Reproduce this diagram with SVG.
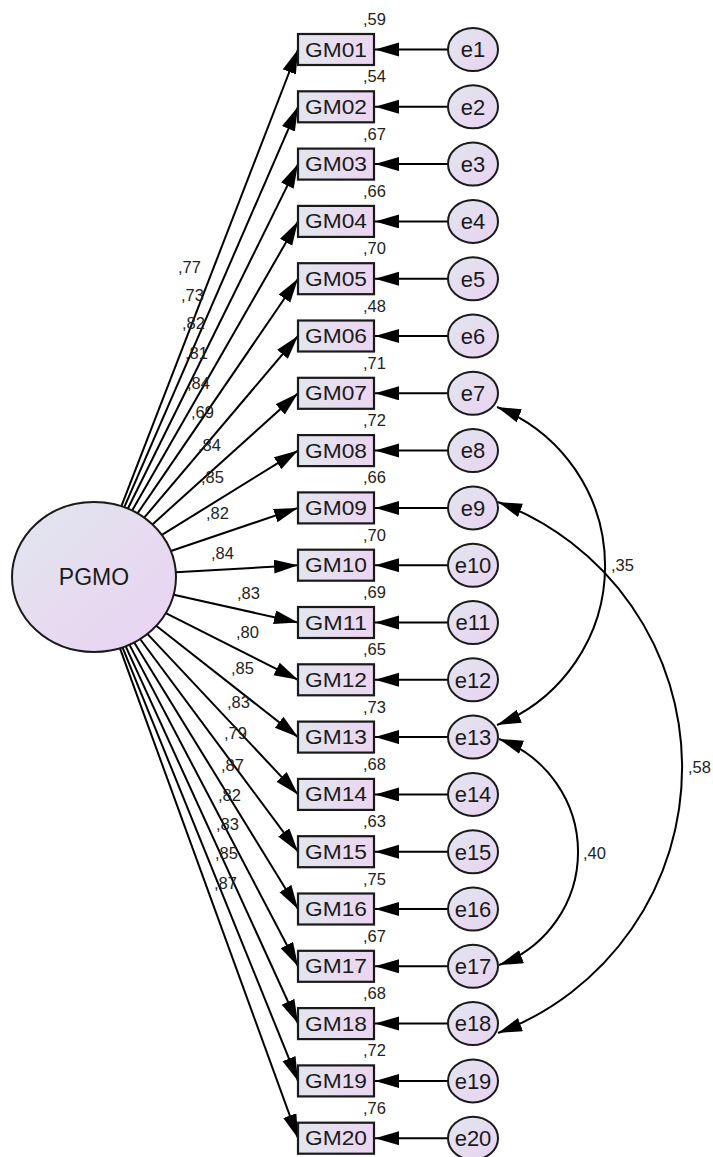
<svg xmlns="http://www.w3.org/2000/svg" width="713" height="1157" viewBox="0 0 713 1157">
<defs>
<style>
.box{fill:url(#gBox);stroke:#1a1a1a;stroke-width:2.2}
.ell{fill:url(#gEll);stroke:#1a1a1a;stroke-width:2}
.ln{fill:none;stroke:#000;stroke-width:2;marker-end:url(#ah)}
.cv{fill:none;stroke:#000;stroke-width:2;marker-start:url(#ah);marker-end:url(#ah)}
.lbl{font-family:"Liberation Sans",Arial,sans-serif;fill:#1a1a1a;text-anchor:middle}
.gm{font-size:20px}
.e{font-size:22px}
.num{font-family:"Liberation Sans",Arial,sans-serif;font-size:16.5px;fill:#222}
</style>
<linearGradient id="gBox" x1="0" y1="0" x2="1" y2="0">
<stop offset="0" stop-color="#e2e6ee"/>
<stop offset="1" stop-color="#ecd5f1"/>
</linearGradient>
<linearGradient id="gEll" x1="0" y1="0" x2="1" y2="1">
<stop offset="0" stop-color="#e1e6ee"/>
<stop offset="1" stop-color="#ead2f2"/>
</linearGradient>
<marker id="ah" markerUnits="userSpaceOnUse" markerWidth="26" markerHeight="16" refX="24" refY="7" orient="auto-start-reverse">
<path d="M0,0 L24,7 L0,14 z" fill="#000"/>
</marker>
</defs>
<rect width="713" height="1157" fill="#fff"/>

<g id="connectors">
<line class="ln" x1="121.3" y1="506.3" x2="298" y2="49.5"/>
<line class="ln" x1="124.2" y1="507.3" x2="298" y2="106.8"/>
<line class="ln" x1="127.8" y1="508.7" x2="298" y2="164.1"/>
<line class="ln" x1="132.1" y1="510.6" x2="298" y2="221.4"/>
<line class="ln" x1="137.5" y1="513.4" x2="298" y2="278.7"/>
<line class="ln" x1="144.2" y1="517.7" x2="298" y2="336"/>
<line class="ln" x1="152.4" y1="524.4" x2="298" y2="393.3"/>
<line class="ln" x1="161.9" y1="534.9" x2="298" y2="450.6"/>
<line class="ln" x1="170.9" y1="551" x2="298" y2="507.9"/>
<line class="ln" x1="175.8" y1="572.3" x2="298" y2="565.2"/>
<line class="ln" x1="173.7" y1="594.8" x2="298" y2="622.5"/>
<line class="ln" x1="165.8" y1="613.2" x2="298" y2="679.8"/>
<line class="ln" x1="156.2" y1="625.8" x2="298" y2="737.1"/>
<line class="ln" x1="147.4" y1="633.9" x2="298" y2="794.4"/>
<line class="ln" x1="140.1" y1="639" x2="298" y2="851.7"/>
<line class="ln" x1="134.2" y1="642.4" x2="298" y2="909"/>
<line class="ln" x1="129.4" y1="644.6" x2="298" y2="966.3"/>
<line class="ln" x1="125.6" y1="646.2" x2="298" y2="1023.6"/>
<line class="ln" x1="122.5" y1="647.3" x2="298" y2="1080.9"/>
<line class="ln" x1="119.9" y1="648.2" x2="298" y2="1138.2"/>

<line class="ln" x1="448" y1="49.5" x2="375" y2="49.5"/>
<line class="ln" x1="448" y1="106.8" x2="375" y2="106.8"/>
<line class="ln" x1="448" y1="164.1" x2="375" y2="164.1"/>
<line class="ln" x1="448" y1="221.4" x2="375" y2="221.4"/>
<line class="ln" x1="448" y1="278.7" x2="375" y2="278.7"/>
<line class="ln" x1="448" y1="336" x2="375" y2="336"/>
<line class="ln" x1="448" y1="393.3" x2="375" y2="393.3"/>
<line class="ln" x1="448" y1="450.6" x2="375" y2="450.6"/>
<line class="ln" x1="448" y1="507.9" x2="375" y2="507.9"/>
<line class="ln" x1="448" y1="565.2" x2="375" y2="565.2"/>
<line class="ln" x1="448" y1="622.5" x2="375" y2="622.5"/>
<line class="ln" x1="448" y1="679.8" x2="375" y2="679.8"/>
<line class="ln" x1="448" y1="737.1" x2="375" y2="737.1"/>
<line class="ln" x1="448" y1="794.4" x2="375" y2="794.4"/>
<line class="ln" x1="448" y1="851.7" x2="375" y2="851.7"/>
<line class="ln" x1="448" y1="909" x2="375" y2="909"/>
<line class="ln" x1="448" y1="966.3" x2="375" y2="966.3"/>
<line class="ln" x1="448" y1="1023.6" x2="375" y2="1023.6"/>
<line class="ln" x1="448" y1="1080.9" x2="375" y2="1080.9"/>
<line class="ln" x1="448" y1="1138.2" x2="375" y2="1138.2"/>

<path class="cv" d="M497,407 A171,171 0 0 1 497,725"/>
<path class="cv" d="M498,502 A283.5,283.5 0 0 1 498,1033"/>
<path class="cv" d="M499,739 A120.3,120.3 0 0 1 499,965"/>

<text class="num" x="178" y="272.5">,77</text>
<text class="num" x="181" y="300.5">,73</text>
<text class="num" x="182" y="328.5">,82</text>
<text class="num" x="185" y="358.5">,81</text>
<text class="num" x="187" y="388.5">,84</text>
<text class="num" x="191" y="417.5">,69</text>
<text class="num" x="198" y="450.5">,84</text>
<text class="num" x="201" y="482.5">,85</text>
<text class="num" x="206" y="518.5">,82</text>
<text class="num" x="211" y="558.5">,84</text>
<text class="num" x="237" y="598.5">,83</text>
<text class="num" x="236" y="637.5">,80</text>
<text class="num" x="231" y="673.5">,85</text>
<text class="num" x="227" y="707.5">,83</text>
<text class="num" x="224" y="738.5">,79</text>
<text class="num" x="221" y="770.5">,87</text>
<text class="num" x="218" y="800.5">,82</text>
<text class="num" x="216" y="829.5">,83</text>
<text class="num" x="215" y="858.5">,85</text>
<text class="num" x="214" y="888.5">,87</text>

<text class="num" x="611" y="570.5">,35</text>
<text class="num" x="688" y="772.5">,58</text>
<text class="num" x="583" y="858.5">,40</text>
</g>

<g id="PGMO">
<ellipse class="ell" cx="94" cy="577" rx="82" ry="75"/>
<text class="lbl" x="94" y="585" font-size="23">PGMO</text>
</g>

<g id="GM01"><rect class="box" x="298" y="34" width="76" height="31"/><text class="lbl gm" x="336" y="56.5" textLength="62" lengthAdjust="spacingAndGlyphs">GM01</text><text class="num" x="363" y="25">,59</text></g>
<g id="GM02"><rect class="box" x="298" y="91.3" width="76" height="31"/><text class="lbl gm" x="336" y="113.8" textLength="62" lengthAdjust="spacingAndGlyphs">GM02</text><text class="num" x="363" y="82.3">,54</text></g>
<g id="GM03"><rect class="box" x="298" y="148.6" width="76" height="31"/><text class="lbl gm" x="336" y="171.1" textLength="62" lengthAdjust="spacingAndGlyphs">GM03</text><text class="num" x="363" y="139.6">,67</text></g>
<g id="GM04"><rect class="box" x="298" y="205.9" width="76" height="31"/><text class="lbl gm" x="336" y="228.4" textLength="62" lengthAdjust="spacingAndGlyphs">GM04</text><text class="num" x="363" y="196.9">,66</text></g>
<g id="GM05"><rect class="box" x="298" y="263.2" width="76" height="31"/><text class="lbl gm" x="336" y="285.7" textLength="62" lengthAdjust="spacingAndGlyphs">GM05</text><text class="num" x="363" y="254.2">,70</text></g>
<g id="GM06"><rect class="box" x="298" y="320.5" width="76" height="31"/><text class="lbl gm" x="336" y="343" textLength="62" lengthAdjust="spacingAndGlyphs">GM06</text><text class="num" x="363" y="311.5">,48</text></g>
<g id="GM07"><rect class="box" x="298" y="377.8" width="76" height="31"/><text class="lbl gm" x="336" y="400.3" textLength="62" lengthAdjust="spacingAndGlyphs">GM07</text><text class="num" x="363" y="368.8">,71</text></g>
<g id="GM08"><rect class="box" x="298" y="435.1" width="76" height="31"/><text class="lbl gm" x="336" y="457.6" textLength="62" lengthAdjust="spacingAndGlyphs">GM08</text><text class="num" x="363" y="426.1">,72</text></g>
<g id="GM09"><rect class="box" x="298" y="492.4" width="76" height="31"/><text class="lbl gm" x="336" y="514.9" textLength="62" lengthAdjust="spacingAndGlyphs">GM09</text><text class="num" x="363" y="483.4">,66</text></g>
<g id="GM10"><rect class="box" x="298" y="549.7" width="76" height="31"/><text class="lbl gm" x="336" y="572.2" textLength="62" lengthAdjust="spacingAndGlyphs">GM10</text><text class="num" x="363" y="540.7">,70</text></g>
<g id="GM11"><rect class="box" x="298" y="607" width="76" height="31"/><text class="lbl gm" x="336" y="629.5" textLength="62" lengthAdjust="spacingAndGlyphs">GM11</text><text class="num" x="363" y="598">,69</text></g>
<g id="GM12"><rect class="box" x="298" y="664.3" width="76" height="31"/><text class="lbl gm" x="336" y="686.8" textLength="62" lengthAdjust="spacingAndGlyphs">GM12</text><text class="num" x="363" y="655.3">,65</text></g>
<g id="GM13"><rect class="box" x="298" y="721.6" width="76" height="31"/><text class="lbl gm" x="336" y="744.1" textLength="62" lengthAdjust="spacingAndGlyphs">GM13</text><text class="num" x="363" y="712.6">,73</text></g>
<g id="GM14"><rect class="box" x="298" y="778.9" width="76" height="31"/><text class="lbl gm" x="336" y="801.4" textLength="62" lengthAdjust="spacingAndGlyphs">GM14</text><text class="num" x="363" y="769.9">,68</text></g>
<g id="GM15"><rect class="box" x="298" y="836.2" width="76" height="31"/><text class="lbl gm" x="336" y="858.7" textLength="62" lengthAdjust="spacingAndGlyphs">GM15</text><text class="num" x="363" y="827.2">,63</text></g>
<g id="GM16"><rect class="box" x="298" y="893.5" width="76" height="31"/><text class="lbl gm" x="336" y="916" textLength="62" lengthAdjust="spacingAndGlyphs">GM16</text><text class="num" x="363" y="884.5">,75</text></g>
<g id="GM17"><rect class="box" x="298" y="950.8" width="76" height="31"/><text class="lbl gm" x="336" y="973.3" textLength="62" lengthAdjust="spacingAndGlyphs">GM17</text><text class="num" x="363" y="941.8">,67</text></g>
<g id="GM18"><rect class="box" x="298" y="1008.1" width="76" height="31"/><text class="lbl gm" x="336" y="1030.6" textLength="62" lengthAdjust="spacingAndGlyphs">GM18</text><text class="num" x="363" y="999.1">,68</text></g>
<g id="GM19"><rect class="box" x="298" y="1065.4" width="76" height="31"/><text class="lbl gm" x="336" y="1087.9" textLength="62" lengthAdjust="spacingAndGlyphs">GM19</text><text class="num" x="363" y="1056.4">,72</text></g>
<g id="GM20"><rect class="box" x="298" y="1122.7" width="76" height="31"/><text class="lbl gm" x="336" y="1145.2" textLength="62" lengthAdjust="spacingAndGlyphs">GM20</text><text class="num" x="363" y="1113.7">,76</text></g>

<g id="e1"><ellipse class="ell" cx="473" cy="49.5" rx="25" ry="21.5"/><text class="lbl e" x="473" y="57.3">e1</text></g>
<g id="e2"><ellipse class="ell" cx="473" cy="106.8" rx="25" ry="21.5"/><text class="lbl e" x="473" y="114.6">e2</text></g>
<g id="e3"><ellipse class="ell" cx="473" cy="164.1" rx="25" ry="21.5"/><text class="lbl e" x="473" y="171.9">e3</text></g>
<g id="e4"><ellipse class="ell" cx="473" cy="221.4" rx="25" ry="21.5"/><text class="lbl e" x="473" y="229.2">e4</text></g>
<g id="e5"><ellipse class="ell" cx="473" cy="278.7" rx="25" ry="21.5"/><text class="lbl e" x="473" y="286.5">e5</text></g>
<g id="e6"><ellipse class="ell" cx="473" cy="336" rx="25" ry="21.5"/><text class="lbl e" x="473" y="343.8">e6</text></g>
<g id="e7"><ellipse class="ell" cx="473" cy="393.3" rx="25" ry="21.5"/><text class="lbl e" x="473" y="401.1">e7</text></g>
<g id="e8"><ellipse class="ell" cx="473" cy="450.6" rx="25" ry="21.5"/><text class="lbl e" x="473" y="458.4">e8</text></g>
<g id="e9"><ellipse class="ell" cx="473" cy="507.9" rx="25" ry="21.5"/><text class="lbl e" x="473" y="515.7">e9</text></g>
<g id="e10"><ellipse class="ell" cx="473" cy="565.2" rx="25" ry="21.5"/><text class="lbl e" x="473" y="573">e10</text></g>
<g id="e11"><ellipse class="ell" cx="473" cy="622.5" rx="25" ry="21.5"/><text class="lbl e" x="473" y="630.3">e11</text></g>
<g id="e12"><ellipse class="ell" cx="473" cy="679.8" rx="25" ry="21.5"/><text class="lbl e" x="473" y="687.6">e12</text></g>
<g id="e13"><ellipse class="ell" cx="473" cy="737.1" rx="25" ry="21.5"/><text class="lbl e" x="473" y="744.9">e13</text></g>
<g id="e14"><ellipse class="ell" cx="473" cy="794.4" rx="25" ry="21.5"/><text class="lbl e" x="473" y="802.2">e14</text></g>
<g id="e15"><ellipse class="ell" cx="473" cy="851.7" rx="25" ry="21.5"/><text class="lbl e" x="473" y="859.5">e15</text></g>
<g id="e16"><ellipse class="ell" cx="473" cy="909" rx="25" ry="21.5"/><text class="lbl e" x="473" y="916.8">e16</text></g>
<g id="e17"><ellipse class="ell" cx="473" cy="966.3" rx="25" ry="21.5"/><text class="lbl e" x="473" y="974.1">e17</text></g>
<g id="e18"><ellipse class="ell" cx="473" cy="1023.6" rx="25" ry="21.5"/><text class="lbl e" x="473" y="1031.4">e18</text></g>
<g id="e19"><ellipse class="ell" cx="473" cy="1080.9" rx="25" ry="21.5"/><text class="lbl e" x="473" y="1088.7">e19</text></g>
<g id="e20"><ellipse class="ell" cx="473" cy="1138.2" rx="25" ry="21.5"/><text class="lbl e" x="473" y="1146">e20</text></g>
</svg>
